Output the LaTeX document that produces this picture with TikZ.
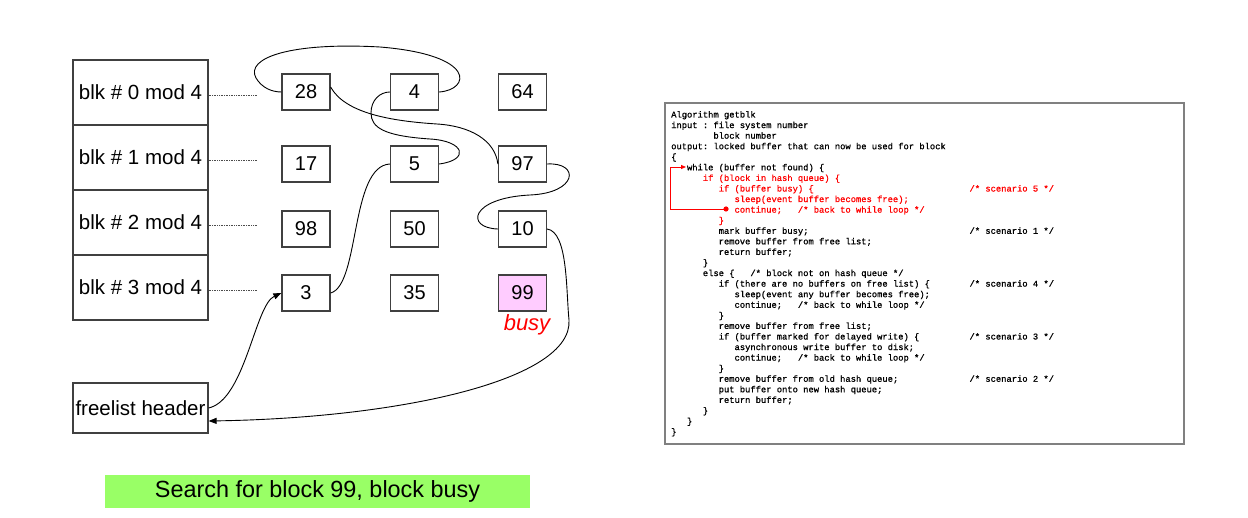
\documentclass[tikz,border=0pt]{standalone}
\usepackage{fontspec}
\setmainfont{Liberation Sans}
\newfontfamily\codefont[FakeBold=0.9]{Liberation Mono}
\usetikzlibrary{arrows.meta}
\definecolor{bannergreen}{HTML}{99FF66}
\definecolor{busypink}{HTML}{FFCCFF}
\definecolor{boxline}{HTML}{404040}
\definecolor{codeframe}{HTML}{808080}
\newlength\cw
\setlength\cw{5.28pt}
\newcommand\ind[1]{\hspace*{#1\cw}}
\newcommand\cmt[2]{\makebox[#1\cw][l]{#2}}
\begin{document}
\begin{tikzpicture}[x=1pt,y=-1pt,
  hrow/.style={draw=boxline,line width=1.2pt,minimum width=135pt,minimum height=65pt,inner sep=0pt,font=\fontsize{20.5}{24}\selectfont},
  buf/.style={draw=boxline,line width=1.2pt,minimum width=48pt,minimum height=36pt,inner sep=0pt,font=\fontsize{20}{24}\selectfont},
  fl/.style={black,line width=0.9pt},
  flarrow/.style={fl,-{Triangle[length=8pt,width=6pt]}},
  dotline/.style={densely dotted,line width=0.7pt,black!70},
  codetxt/.style={inner sep=0pt,anchor=base west,font=\codefont\fontsize{8.8}{10.57}\selectfont\frenchspacing}
]
\useasboundingbox (0,0) rectangle (1248,518);
\fill[white] (0,0) rectangle (1248,518);

% hash table
\node[hrow] (h0) at (140.5,92.5) {blk \# 0 mod 4};
\node[hrow] (h1) at (140.5,157.5) {blk \# 1 mod 4};
\node[hrow] (h2) at (140.5,222.5) {blk \# 2 mod 4};
\node[hrow] (h3) at (140.5,287.5) {blk \# 3 mod 4};
\node[draw=boxline,line width=1.2pt,minimum width=135pt,minimum height=50pt,inner sep=0pt,font=\fontsize{20.5}{24}\selectfont] (fh) at (140.5,408) {freelist header};

% dotted pointers
\coordinate (d0) at (257,95);
\coordinate (d1) at (257,160);
\coordinate (d2) at (257,225);
\coordinate (d3) at (257,290);
\draw[dotline] (h0.east |- d0) -- (d0);
\draw[dotline] (h1.east |- d1) -- (d1);
\draw[dotline] (h2.east |- d2) -- (d2);
\draw[dotline] (h3.east |- d3) -- (d3);

% buffers
\node[buf] (b28) at (306,92) {28};
\node[buf] (b4) at (414.5,92) {4};
\node[buf] (b64) at (522.5,92) {64};
\node[buf] (b17) at (306,164) {17};
\node[buf] (b5) at (414.5,164) {5};
\node[buf] (b97) at (522.5,164) {97};
\node[buf] (b98) at (306,229) {98};
\node[buf] (b50) at (414.5,229) {50};
\node[buf] (b10) at (522.5,229) {10};
\node[buf] (b3) at (306,293) {3};
\node[buf] (b35) at (414.5,293) {35};
\node[buf,fill=busypink] (b99) at (522.5,293) {99};
\node[text=red,font=\fontsize{22}{26}\selectfont\itshape,inner sep=0pt] (busy) at (527,325) {busy};

% free list
\draw[flarrow] ([yshift=0pt]fh.east) .. controls (245,400) and (255,305) .. (b3.west);
\draw[fl] (b3.east) .. controls (360,285) and (350,166) .. (b5.west);
\draw[fl] (b5.east) .. controls (470,160) and (465,141) .. (430,139)
  .. controls (385,136) and (371,128) .. (371,113)
  .. controls (371,100) and (380,92) .. (b4.west);
\draw[fl] (b4.east) .. controls (470,90) and (478,55) .. (380,47)
  .. controls (290,42) and (245,58) .. (256,78)
  .. controls (262,88) and (272,92) .. (b28.west);
\draw[fl] ([yshift=5pt]b28.east) .. controls (345,113) and (390,121) .. (437,124)
  .. controls (470,126) and (495,140) .. (b97.west);
\draw[fl] (b97.east) .. controls (580,162) and (578,193) .. (530,195)
  .. controls (470,198) and (465,228) .. (b10.west);
\draw[flarrow] (b10.east) .. controls (568,232) and (566,290) .. (569,320)
  .. controls (573,380) and (400,418) .. ([yshift=-13pt]fh.east);

% banner
\node[fill=bannergreen,minimum width=425pt,minimum height=33pt,inner sep=0pt,font=\fontsize{23.4}{28}\selectfont] (banner) at (317.5,491.5) {Search for block 99, block busy};

% code panel
\node[draw=codeframe,line width=1.2pt,minimum width=519pt,minimum height=341pt,inner sep=0pt] (codebox) at (924.5,273.5) {};
\node[codetxt] (code) at (671,117.5) {\begin{tabular}[t]{@{}l@{}}
Algorithm getblk\\
input : file system number\\
\ind{8}block number\\
output: locked buffer that can now be used for block\\
\{\\
\ind{3}while (buffer not found) \{\\
\color{red}\ind{6}if (block in hash queue) \{\\
\color{red}\ind{9}\cmt{47.5}{if (buffer busy) \{}/* scenario 5 */\\
\color{red}\ind{12}sleep(event buffer becomes free);\\
\color{red}\ind{12}continue;\ind{3}/* back to while loop */\\
\color{red}\ind{9}\}\\
\ind{9}\cmt{47.5}{mark buffer busy;}/* scenario 1 */\\
\ind{9}remove buffer from free list;\\
\ind{9}return buffer;\\
\ind{6}\}\\
\ind{6}else \{\ind{3}/* block not on hash queue */\\
\ind{9}\cmt{47.5}{if (there are no buffers on free list) \{}/* scenario 4 */\\
\ind{12}sleep(event any buffer becomes free);\\
\ind{12}continue;\ind{3}/* back to while loop */\\
\ind{9}\}\\
\ind{9}remove buffer from free list;\\
\ind{9}\cmt{47.5}{if (buffer marked for delayed write) \{}/* scenario 3 */\\
\ind{12}asynchronous write buffer to disk;\\
\ind{12}continue;\ind{3}/* back to while loop */\\
\ind{9}\}\\
\ind{9}\cmt{47.5}{remove buffer from old hash queue;}/* scenario 2 */\\
\ind{9}put buffer onto new hash queue;\\
\ind{9}return buffer;\\
\ind{6}\}\\
\ind{3}\}\\
\}
\end{tabular}};

% red loop-back marker
\coordinate (rdot) at (726,209);
\coordinate (rtip) at (686,167);
\draw[red,line width=0.8pt,-{Triangle[length=5pt,width=4pt]}] (rdot) -- (670,209) -- (670,167) -- (rtip);
\fill[red] (rdot) circle (2.6);
\end{tikzpicture}
\end{document}
